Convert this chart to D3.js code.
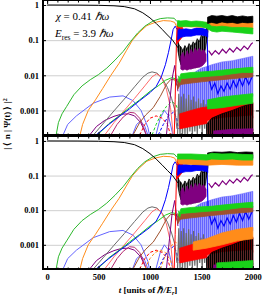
<!DOCTYPE html>
<html><head><meta charset="utf-8">
<script src="https://cdn.jsdelivr.net/npm/d3@7.9.0/dist/d3.min.js"></script>
<style>
body{margin:0;background:#fff}
svg text{font-family:"Liberation Serif","Times New Roman",serif}
</style></head><body>
<svg id="chart" width="266" height="299"></svg>
<script>
// axis ticks
const tTicks = [0, 500, 1000, 1500, 2000];
const pTicks = [1, 0.1, 0.01, 0.001];
const pTickLabels = ["1", "0.1", "0.01", "0.001"];

// smooth populations [t, |<n|psi>|^2]
const blackPop = [[0,1],[300,0.995],[500,0.98],[650,0.95],[750,0.9],[850,0.78],[930,0.6],[1000,0.43],[1060,0.3],[1120,0.2],[1170,0.14],[1220,0.1],[1250,0.075],[1275,0.06]];
const greenPop = [[88,2e-4],[110,4.5e-4],[145,8e-4],[190,0.0013],[260,0.0028],[340,0.005],[420,0.0075],[500,0.0105],[580,0.016],[660,0.027],[740,0.048],[810,0.09],[880,0.16],[950,0.25],[1030,0.35],[1100,0.41],[1170,0.43],[1235,0.42],[1262,0.34]];
const orangePop = [[320,2e-4],[345,4e-4],[400,0.001],[470,0.002],[540,0.0042],[620,0.01],[700,0.022],[770,0.05],[830,0.1],[900,0.17],[970,0.26],[1050,0.32],[1130,0.36],[1200,0.35],[1240,0.32],[1265,0.22]];
const lblueArc = [[155,2e-4],[200,4e-4],[285,7e-4],[447,0.0016],[608,0.0024],[738,0.0026],[835,0.0019],[913,0.001],[980,3.3e-4],[995,2e-4]];
const greyArc = [[450,2e-4],[550,4.4e-4],[650,9.7e-4],[750,0.0021],[850,0.0047],[930,0.0088],[980,0.0115],[1020,0.0125],[1070,0.0115],[1120,0.008],[1170,0.0045],[1210,0.0022],[1243,0.001],[1262,3e-4]];
const bluePop = [[476,2e-4],[600,4e-4],[700,6.7e-4],[800,0.0011],[900,0.0019],[1000,0.0032],[1060,0.0048],[1110,0.009],[1150,0.02],[1180,0.045],[1205,0.1],[1225,0.2],[1245,0.25],[1265,0.2]];
const lgreenPop = [[490,2e-4],[600,4.2e-4],[700,7e-4],[800,0.0012],[900,0.002],[1000,0.0035],[1080,0.005],[1150,0.0072],[1210,0.0085],[1250,0.008],[1275,0.006]];
const pinkArc = [[560,2e-4],[650,4.5e-4],[750,0.001],[850,0.0022],[950,0.005],[1020,0.009],[1065,0.011],[1110,0.009],[1160,0.004],[1200,0.0012],[1226,2e-4]];
const redRise = [[1236,2e-4],[1245,0.002],[1252,0.02],[1258,0.1],[1265,0.25],[1280,0.2]];
const brownPop = [[835,2e-4],[900,4.5e-4],[960,7.5e-4],[1032,0.0012],[1100,0.0025],[1160,0.0055],[1200,0.0075],[1240,0.0075],[1265,0.005],[1285,0.006]];
const purpleArc = [[414,2e-4],[480,3.5e-4],[560,5.2e-4],[650,6.8e-4],[720,7.8e-4],[790,8e-4],[850,7e-4],[910,4.5e-4],[950,2.5e-4],[965,2e-4]];
const crimsonArc = [[620,2e-4],[680,4e-4],[740,6.5e-4],[800,8.8e-4],[850,8.5e-4],[900,6e-4],[940,3.2e-4],[965,2e-4]];
const purpleSpike = [[1160,2e-4],[1190,0.0015],[1215,0.008],[1240,0.019],[1256,0.008],[1272,0.0035]];
const lblueArc2 = [[1058,2e-4],[1100,6e-4],[1140,0.001],[1180,7e-4],[1223,2e-4]];
const lblueArc3 = [[830,2e-4],[870,4e-4],[910,5e-4],[950,3.5e-4],[980,2e-4]];
const redDash = [[900,2e-4],[950,4e-4],[1000,6e-4],[1060,7e-4],[1120,6e-4],[1170,4e-4],[1200,2e-4]];
const greenDash = [[1020,2e-4],[1060,4e-4],[1110,8e-4],[1160,0.0013],[1210,0.0018],[1250,0.0015],[1275,0.001]];
const blueDash = [[1080,2e-4],[1130,4e-4],[1180,7e-4],[1230,9e-4],[1260,6e-4],[1275,3e-4]];
const orangeDash = [[950,2e-4],[1000,4e-4],[1050,6e-4],[1100,7e-4],[1150,6e-4],[1200,3.5e-4],[1225,2e-4]];
const orangeDash2 = [[1100,2e-4],[1150,5e-4],[1200,9e-4],[1250,0.0012],[1280,0.001]];

// fluctuating regions after t~1270: [t, low, high]
const lblueBand = [[1290,6e-4,0.006],[1350,7e-4,0.008],[1400,8e-4,0.01],[1450,9e-4,0.013],[1500,0.001,0.016],[1560,0.0012,0.018],[1600,0.0014,0.02],[1700,0.0016,0.024],[1800,0.0018,0.026],[1900,0.002,0.03],[2000,0.0025,0.035]];
const brownBand = [[1270,0.004,0.008],[1288,0.005,0.0065],[1300,0.0055,0.008],[1400,0.006,0.0085],[1500,0.0065,0.009],[1600,0.007,0.0095],[1700,0.0075,0.01],[1800,0.008,0.011],[1900,0.0085,0.012],[2000,0.009,0.013]];
const greenMidBand = [[1280,0.007,0.0095],[1290,0.0062,0.008],[1300,0.008,0.011],[1400,0.0085,0.012],[1500,0.009,0.0125],[1600,0.0095,0.013],[1700,0.01,0.014],[1800,0.011,0.015],[1900,0.012,0.016],[2000,0.012,0.017]];
const redLowBand = [[1290,3e-4,8e-4],[1400,3.5e-4,0.001],[1500,4e-4,0.0012],[1600,4.5e-4,0.0013],[1700,5e-4,0.0014],[1800,5e-4,0.0015],[1900,5.5e-4,0.0016],[2000,6e-4,0.0017]];
const pinkLowBand = [[1560,2e-4,5e-4],[1700,2e-4,6e-4],[1850,2e-4,6.5e-4],[2000,2e-4,7e-4]];
const blackLowBand = [[1550,2e-4,4e-4],[1600,2e-4,6e-4],[1700,2e-4,8e-4],[1800,2e-4,0.001],[1900,2.2e-4,0.0013],[2000,2.5e-4,0.0016]];
const purpleLowBand = [[1620,2e-4,2.6e-4],[1800,2e-4,2.9e-4],[2000,2e-4,3e-4]];
const blackWedge = [[1272,0.05,0.09],[1285,0.03,0.07],[1300,0.02,0.065],[1320,0.017,0.05],[1340,0.016,0.07],[1360,0.015,0.055],[1380,0.016,0.08],[1400,0.016,0.065],[1420,0.016,0.09],[1440,0.017,0.075],[1460,0.017,0.11],[1480,0.018,0.09],[1500,0.02,0.14],[1520,0.03,0.12],[1540,0.06,0.2],[1555,0.12,0.22],[1565,0.2,0.28]];
const purpleWedge = [[1300,0.015,0.035],[1320,0.014,0.045],[1340,0.015,0.03],[1360,0.014,0.05],[1380,0.015,0.035],[1400,0.015,0.055],[1420,0.016,0.04],[1440,0.016,0.06],[1460,0.017,0.045],[1480,0.017,0.06],[1500,0.018,0.045],[1520,0.02,0.055],[1545,0.025,0.04]];
const blueTopBand = [[1268,0.1,0.22],[1300,0.12,0.2],[1350,0.13,0.21],[1400,0.13,0.2],[1450,0.14,0.22],[1500,0.14,0.22],[1550,0.13,0.2],[1562,0.12,0.18]];
const redTopBand = [[1265,0.08,0.3],[1290,0.1,0.28],[1320,0.13,0.22]];
const greyZig = [[1268,2e-4],[1280,0.003],[1292,2e-4],[1304,0.0025],[1316,2e-4],[1328,0.003],[1340,2e-4],[1352,0.0022],[1364,2e-4],[1376,0.0028],[1388,2.5e-4],[1400,0.002],[1412,2e-4],[1424,0.0025],[1436,2.5e-4],[1448,0.0018],[1460,2e-4],[1472,0.0022],[1484,3e-4],[1496,0.0016],[1508,2e-4],[1520,0.002],[1532,3e-4],[1544,0.0015],[1556,2.5e-4],[1568,0.0012],[1580,3e-4],[1600,8e-4]];
const blueZig = [[1555,0.15],[1565,0.01],[1600,0.004],[1630,0.006],[1660,0.003],[1690,0.005],[1720,0.0035],[1750,0.006],[1780,0.004],[1810,0.007],[1840,0.0045],[1870,0.008],[1900,0.005],[1930,0.009],[1960,0.0055],[2000,0.01]];

// upper panel only
const aOrangeHigh = [[1270,0.24,0.33],[1400,0.24,0.32],[1550,0.23,0.32],[1600,0.22,0.33],[1700,0.23,0.34],[1800,0.22,0.33],[1900,0.22,0.32],[2000,0.21,0.32]];
const aGreenHigh = [[1268,0.25,0.36],[1300,0.24,0.35],[1350,0.25,0.36],[1400,0.24,0.34],[1450,0.25,0.35],[1500,0.24,0.34],[1550,0.22,0.32],[1600,0.18,0.25],[1650,0.17,0.24],[1700,0.18,0.25],[1800,0.17,0.23],[1900,0.16,0.23],[2000,0.15,0.22]];
const aBlackHigh = [[1560,0.3,0.45],[1600,0.32,0.5],[1650,0.3,0.48],[1700,0.33,0.5],[1750,0.31,0.47],[1800,0.32,0.5],[1850,0.3,0.46],[1900,0.32,0.49],[1950,0.31,0.46],[2000,0.32,0.48]];
const aPurpleOsc = [[1570,0.05],[1600,0.038],[1635,0.05],[1670,0.04],[1705,0.055],[1740,0.043],[1775,0.058],[1810,0.046],[1845,0.062],[1880,0.05],[1915,0.068],[1950,0.055],[1985,0.078],[2000,0.085]];
const aGreenLow = [[1560,0.0011,0.002],[1700,0.0012,0.0024],[1850,0.0014,0.0027],[2000,0.0016,0.003]];

// lower panel only
const bOrangeHigh = [[1270,0.22,0.3],[1560,0.2,0.3],[1700,0.21,0.31],[1850,0.2,0.3],[2000,0.2,0.29]];
const bBlackHigh = [[1560,0.3,0.45],[1620,0.32,0.48],[1700,0.31,0.47],[1780,0.33,0.49],[1850,0.3,0.46],[1930,0.32,0.48],[2000,0.31,0.47]];
const bGreenHigh = [[1268,0.3,0.42],[1400,0.3,0.42],[1550,0.28,0.4],[1600,0.3,0.44],[1700,0.29,0.42],[1800,0.3,0.43],[1900,0.28,0.41],[2000,0.28,0.4]];
const bPurpleOsc = [[1570,0.06],[1600,0.045],[1635,0.062],[1670,0.05],[1705,0.07],[1740,0.055],[1775,0.075],[1810,0.06],[1845,0.08],[1880,0.065],[1915,0.088],[1950,0.07],[1985,0.1],[2000,0.105]];
const bOrangeLow = [[1420,7e-4,0.0012],[1550,8e-4,0.0015],[1700,0.001,0.0022],[1850,0.0013,0.0028],[2000,0.0015,0.0032]];
const bGreenLow = [[1650,2e-4,3e-4],[2000,2e-4,3.5e-4]];

const C = {grey:'#6b6b6b', green:'#2db82d', green2:'#19d219', orange:'#ff8c1a', blue:'#0000ff',
  lblue:'#6464ff', red:'#ff0000', pink:'#ff6a6a', purple:'#800080', brown:'#a0522d', crimson:'#b4286e'};

const svg = d3.select('#chart');
const x = d3.scaleLinear().domain([-40, 2060]).range([43, 259]);

// vertical stripes to mimic fast oscillations inside the bands
const defs = svg.append('defs');
[['lblue', C.lblue], ['black', '#000'], ['grey', C.grey]].forEach(([n, c]) => {
  const pat = defs.append('pattern').attr('id', 'st-' + n).attr('patternUnits', 'userSpaceOnUse')
    .attr('width', 2).attr('height', 4);
  pat.append('rect').attr('width', 2).attr('height', 4).attr('fill', c).attr('opacity', 0.55);
  pat.append('rect').attr('width', 1.2).attr('height', 4).attr('fill', c);
});

const panels = [
  {top: 1, bottom: 135, xLabels: false, note: true,
   dashed: [[redDash, C.red], [greenDash, C.green2], [blueDash, C.blue]],
   low: [[aGreenLow, C.green2]],
   high: [[aOrangeHigh, C.orange], [aGreenHigh, C.green2], [aBlackHigh, '#000']],
   osc: aPurpleOsc},
  {top: 137, bottom: 269, xLabels: true, note: false,
   dashed: [[redDash, C.red], [orangeDash, C.orange], [orangeDash2, C.orange], [blueDash, C.blue]],
   low: [[bOrangeLow, C.orange], [bGreenLow, C.green2]],
   high: [[bOrangeHigh, C.orange], [bBlackHigh, '#000'], [bGreenHigh, C.green2]],
   osc: bPurpleOsc}
];

panels.forEach((p, pi) => {
  const y = d3.scaleLog().domain([2e-4, 1.3]).range([p.bottom, p.top]);
  const line = d3.line().x(d => x(d[0])).y(d => y(d[1]));
  const area = d3.area().x(d => x(d[0])).y0(d => y(d[1])).y1(d => y(d[2]));
  const g = svg.append('g');

  svg.append('clipPath').attr('id', 'clip' + pi)
    .append('rect').attr('x', 43).attr('y', p.top).attr('width', 216).attr('height', p.bottom - p.top);

  // grid
  g.append('g').attr('transform', 'translate(43,0)')
    .call(d3.axisLeft(y).tickValues(pTicks).tickSize(-216).tickFormat(''))
    .call(a => a.select('.domain').remove())
    .selectAll('line').attr('stroke', '#cfcfcf').attr('stroke-width', 1);

  const plot = g.append('g').attr('clip-path', `url(#clip${pi})`);
  const drawLine = (data, color, w = 1, dash = null) =>
    plot.append('path').attr('d', line(data)).attr('fill', 'none')
      .attr('stroke', color).attr('stroke-width', w).attr('stroke-dasharray', dash);
  const drawBand = (data, color, fill = color) =>
    plot.append('path').attr('d', area(data)).attr('fill', fill)
      .attr('stroke', color).attr('stroke-width', 0.8);

  // low arcs
  drawLine(lblueArc, C.lblue);
  drawLine(lblueArc2, C.lblue);
  drawLine(lblueArc3, C.lblue);
  drawLine(purpleArc, C.purple);
  drawLine(crimsonArc, C.crimson);
  p.dashed.forEach(([d, c]) => drawLine(d, c, 1, '3,2'));
  drawLine(greyArc, C.grey);
  drawLine(pinkArc, C.pink);
  drawLine(brownPop, C.brown);
  drawLine(lgreenPop, C.green2);
  drawLine(bluePop, C.blue);
  drawLine(purpleSpike, C.purple);

  // fluctuating region
  drawBand(lblueBand, C.lblue, 'url(#st-lblue)').attr('stroke-width', 0.5);
  drawLine(greyZig, C.grey, 1.2);
  drawBand(redLowBand, C.red);
  drawBand(pinkLowBand, C.pink);
  drawBand(blackLowBand, '#000', 'url(#st-black)');
  drawBand(purpleLowBand, C.purple);
  p.low.forEach(([d, c]) => drawBand(d, c));
  drawLine(blueZig, C.blue, 1.2);
  drawBand(brownBand, C.brown);
  drawBand(greenMidBand, C.green2);
  drawBand(blackWedge, '#000', 'url(#st-black)');
  drawBand(purpleWedge, C.purple);
  drawBand(redTopBand, C.red);
  drawBand(blueTopBand, C.blue);
  p.high.forEach(([d, c]) => drawBand(d, c));
  drawLine(p.osc, C.purple, 1.2);
  drawLine(redRise, C.red);

  // main curves
  drawLine(orangePop, C.orange);
  drawLine(greenPop, C.green);
  drawLine(blackPop, '#000');

  // ticks
  g.append('g').attr('class', 'ax').attr('transform', 'translate(43,0)')
    .call(d3.axisLeft(y).tickValues(pTicks).tickFormat((d, i) => pTickLabels[i]).tickSize(-3).tickPadding(4));
  g.append('g').attr('class', 'ax').attr('transform', 'translate(259,0)')
    .call(d3.axisRight(y).tickValues(pTicks).tickFormat('').tickSize(-3));
  g.append('g').attr('class', 'ax').attr('transform', `translate(0,${p.top})`)
    .call(d3.axisTop(x).tickValues(tTicks).tickFormat('').tickSize(-3));
  g.append('g').attr('class', 'ax').attr('transform', `translate(0,${p.top})`)
    .call(d3.axisTop(x).tickValues(d3.range(0, 2001, 100)).tickFormat('').tickSize(-1.5));
  g.append('g').attr('class', 'ax').attr('transform', `translate(0,${p.bottom})`)
    .call(d3.axisBottom(x).tickValues(tTicks).tickFormat(p.xLabels ? d3.format('d') : '').tickSize(-3).tickPadding(5));
  g.append('g').attr('class', 'ax').attr('transform', `translate(0,${p.bottom})`)
    .call(d3.axisBottom(x).tickValues(d3.range(0, 2001, 100)).tickFormat('').tickSize(-1.5));

  // frame
  g.append('rect').attr('x', 43).attr('y', p.top - 0.5).attr('width', 216.5).attr('height', p.bottom - p.top + 0.5)
    .attr('fill', 'none').attr('stroke', '#000').attr('stroke-width', 1);
  g.append('line').attr('x1', 43).attr('x2', 43).attr('y1', p.top - 1).attr('y2', p.bottom + 1)
    .attr('stroke', '#000').attr('stroke-width', 2);
  g.append('line').attr('x1', 42).attr('x2', 260).attr('y1', p.bottom).attr('y2', p.bottom)
    .attr('stroke', '#000').attr('stroke-width', 2);

  if (p.note) {
    const t1 = g.append('text').attr('x', 56).attr('y', 20).attr('font-size', 11);
    t1.append('tspan').attr('font-style', 'italic').text('\u03C7');
    t1.append('tspan').text(' = 0.41 ');
    t1.append('tspan').attr('font-style', 'italic').text('\u210F\u03C9');
    const t2 = g.append('text').attr('x', 55).attr('y', 37).attr('font-size', 11);
    t2.append('tspan').attr('font-style', 'italic').text('E');
    t2.append('tspan').attr('font-size', 7.5).attr('dy', 2.5).text('res');
    t2.append('tspan').attr('dy', -2.5).text(' = 3.9 ');
    t2.append('tspan').attr('font-style', 'italic').text('\u210F\u03C9');
  }
});

svg.selectAll('.ax .domain').remove();
svg.selectAll('.ax line').attr('stroke', '#000').attr('stroke-width', 1);
svg.selectAll('.ax text').attr('font-family', '"Liberation Serif", serif')
  .attr('font-weight', 'bold').attr('font-size', 8.5).attr('fill', '#000');

// axis titles
const xt = svg.append('text').attr('x', 148).attr('y', 293).attr('text-anchor', 'middle')
  .attr('font-weight', 'bold').attr('font-size', 9);
xt.append('tspan').attr('font-style', 'italic').text('t');
xt.append('tspan').text(' [units of ');
xt.append('tspan').attr('font-style', 'italic').text('\u210F/E');
xt.append('tspan').attr('font-size', 6).attr('dy', 2).attr('font-style', 'italic').text('r');
xt.append('tspan').attr('dy', -2).text(']');

const yt = svg.append('text').attr('transform', 'translate(10,124) rotate(-90)')
  .attr('text-anchor', 'middle').attr('font-size', 9).attr('font-weight', 'bold');
yt.append('tspan').text('| \u27E8 n | \u03A8(t) \u27E9 |');
yt.append('tspan').attr('font-size', 6).attr('dy', -3).text('2');
</script></body></html>
